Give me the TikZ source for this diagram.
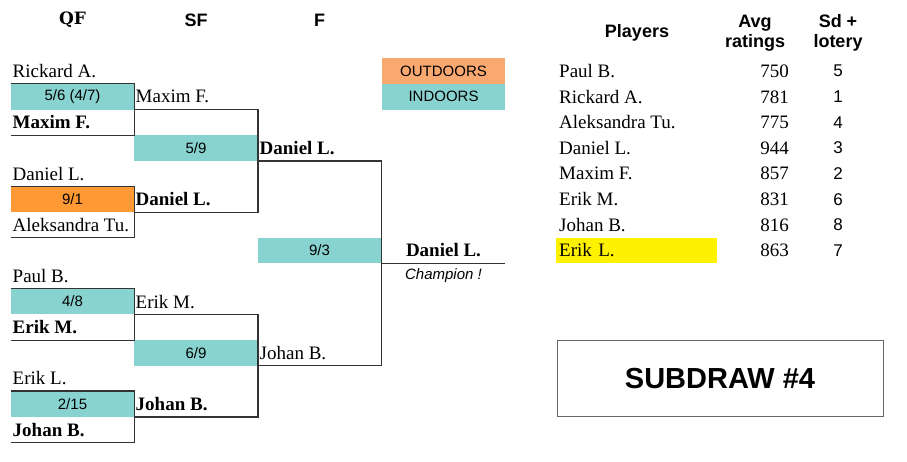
\documentclass[tikz,border=0pt]{standalone}
\usepackage{fontspec}
\setmainfont{Liberation Serif}
\setsansfont{Liberation Sans}
\newfontfamily\qfserif{DejaVu Serif}
\newcommand{\pxfont}[1]{\fontsize{#1}{#1}\selectfont}
\definecolor{indoor}{HTML}{88D3CF}
\definecolor{outdoor}{HTML}{F9A870}
\definecolor{outdoormatch}{HTML}{FF9933}
\definecolor{rule}{HTML}{333333}
\begin{document}
\begin{tikzpicture}[x=1pt, y=-1pt,
  score/.style={minimum width=123.5pt, minimum height=25.6pt, inner sep=0pt, font=\sffamily\pxfont{15}},
  entry/.style={anchor=west, minimum height=25.6pt, inner xsep=1.5pt, inner ysep=0pt, font=\pxfont{19}},
  winner/.style={entry, font=\bfseries\pxfont{19}},
  head/.style={align=center, font=\sffamily\bfseries\fontsize{18}{20}\selectfont},
  tname/.style={anchor=west, minimum height=25.6pt, inner xsep=3pt, inner ysep=0pt, font=\pxfont{19}},
  rate/.style={anchor=east, inner sep=1pt, font=\pxfont{19}},
  sdnum/.style={font=\sffamily\pxfont{17}},
  bracket/.style={draw=rule, line width=1.2pt}]
\useasboundingbox (0,0) rectangle (907,461);
\node[font=\qfserif\bfseries\pxfont{17}] (qf) at (72.5,20) {QF};
\node[head] (sf) at (196,20) {SF};
\node[head] (f) at (319.5,20) {F};
\node[entry] (qa1) at (11,71.2) {Rickard A.};
\node[score, fill=indoor] (qs1) at (72.5,96.8) {5/6 (4/7)};
\node[winner] (qb1) at (11,122.4) {Maxim F.};
\node[entry] (qa2) at (11,173.6) {Daniel L.};
\node[score, fill=outdoormatch] (qs2) at (72.5,199.2) {9/1};
\node[entry] (qb2) at (11,224.8) {Aleksandra Tu.};
\node[entry] (qa3) at (11,276) {Paul B.};
\node[score, fill=indoor] (qs3) at (72.5,301.6) {4/8};
\node[winner] (qb3) at (11,327.2) {Erik M.};
\node[entry] (qa4) at (11,378.4) {Erik L.};
\node[score, fill=indoor] (qs4) at (72.5,404) {2/15};
\node[winner] (qb4) at (11,429.6) {Johan B.};
\node[entry] (sa1) at (134,96.8) {Maxim F.};
\node[score, fill=indoor] (ss1) at (196,148) {5/9};
\node[winner] (sb1) at (134,199.2) {Daniel L.};
\node[entry] (sa2) at (134,301.6) {Erik M.};
\node[score, fill=indoor] (ss2) at (196,352.8) {6/9};
\node[winner] (sb2) at (134,404) {Johan B.};
\node[winner] (fa) at (258,148) {Daniel L.};
\node[score, fill=indoor] (fs) at (319.5,250.4) {9/3};
\node[entry] (fb) at (258,352.8) {Johan B.};
\node[score, font=\bfseries\pxfont{19}] (ch) at (443.5,250.4) {Daniel L.};
\node[score, font=\sffamily\itshape\pxfont{15}] (cht) at (443.5,276) {Champion !};
\node[score, fill=outdoor] (out) at (443.5,71.2) {OUTDOORS};
\node[score, fill=indoor] (in) at (443.5,96.8) {INDOORS};
\draw[bracket] (qs1.north west) -- (qs1.north east) |- (qb1.south west);
\draw[bracket] (qs2.north west) -- (qs2.north east) |- (qb2.south west);
\draw[bracket] (qs3.north west) -- (qs3.north east) |- (qb3.south west);
\draw[bracket] (qs4.north west) -- (qs4.north east) |- (qb4.south west);
\draw[bracket] (sa1.south west) -| (ss1.east) |- (sb1.south west);
\draw[bracket] (sa2.south west) -| (ss2.east) |- (sb2.south west);
\draw[bracket] (fa.south west) -| (fs.east) |- (fb.south west);
\draw[bracket] (fs.south east) -- (ch.south east);
\node[head] (pl) at (637,33) {Players};
\node[head] (avg) at (755,33) {Avg\\ratings};
\node[head] (sd) at (838,33) {Sd +\\lotery};
\node[tname] (p1) at (556,71.2) {Paul B.};
\node[tname] (p2) at (556,96.8) {Rickard A.};
\node[tname] (p3) at (556,122.4) {Aleksandra Tu.};
\node[tname] (p4) at (556,148) {Daniel L.};
\node[tname] (p5) at (556,173.6) {Maxim F.};
\node[tname] (p6) at (556,199.2) {Erik M.};
\node[tname] (p7) at (556,224.8) {Johan B.};
\node[tname, fill=yellow, text width=155pt] (p8) at (556,250.4) {Erik L.};
\node[rate] (r1) at (790,71.2) {750};
\node[rate] (r2) at (790,96.8) {781};
\node[rate] (r3) at (790,122.4) {775};
\node[rate] (r4) at (790,148) {944};
\node[rate] (r5) at (790,173.6) {857};
\node[rate] (r6) at (790,199.2) {831};
\node[rate] (r7) at (790,224.8) {816};
\node[rate] (r8) at (790,250.4) {863};
\node[sdnum] (d1) at (838,71.2) {5};
\node[sdnum] (d2) at (838,96.8) {1};
\node[sdnum] (d3) at (838,122.4) {4};
\node[sdnum] (d4) at (838,148) {3};
\node[sdnum] (d5) at (838,173.6) {2};
\node[sdnum] (d6) at (838,199.2) {6};
\node[sdnum] (d7) at (838,224.8) {8};
\node[sdnum] (d8) at (838,250.4) {7};
\node[draw=gray!80!black, line width=1pt, minimum width=326pt, minimum height=76.8pt, font=\sffamily\bfseries\pxfont{29}] (sub) at (720,378.4) {SUBDRAW \#4};
\end{tikzpicture}
\end{document}
